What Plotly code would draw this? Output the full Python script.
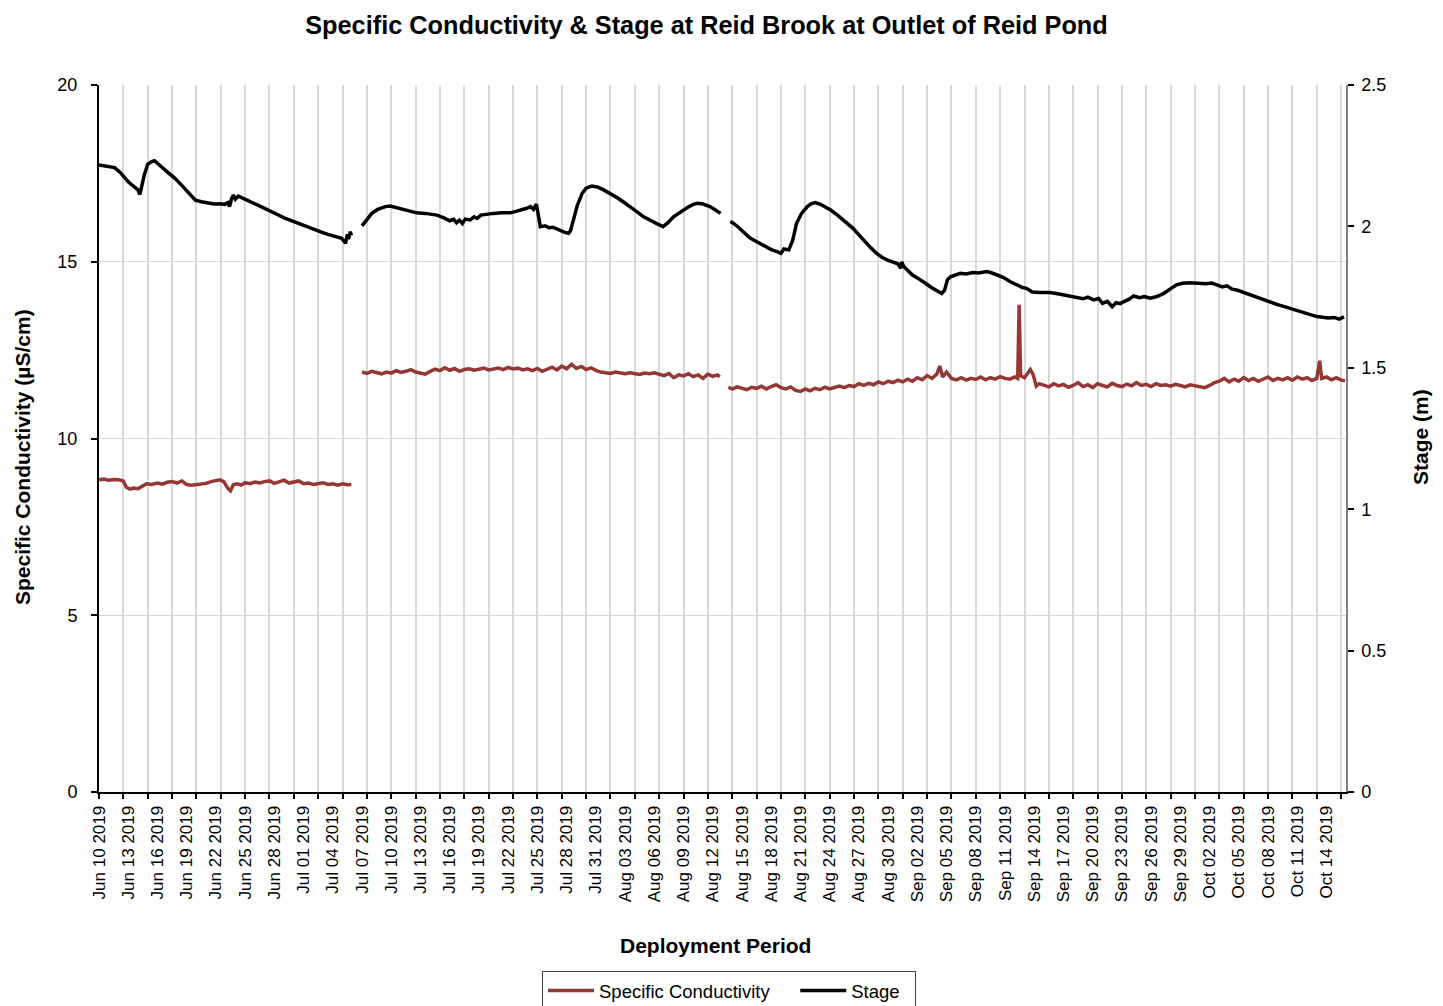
import pandas as pd
import plotly.graph_objects as go

START = pd.Timestamp("2019-06-10")
END = pd.Timestamp("2019-10-16")

# Stage (m): logger record, days since deployment start -> water level
stage_days_1 = [0.0, 0.5, 1.0, 1.6, 2.2, 2.6, 3.0, 3.5, 4.0, 4.2, 4.4, 4.65, 5.0, 5.4, 5.7,
                6.0, 6.4, 7.0, 7.8, 8.5, 9.2, 9.9, 10.5, 11.2, 11.8, 12.4, 12.9, 13.2, 13.4,
                13.6, 13.8, 14.0, 14.3, 14.8, 15.5, 16.3, 17.0, 17.4, 18.2, 19.0, 19.6, 20.1,
                20.8, 21.5, 22.2, 22.9, 23.5, 24.2, 24.9, 25.1, 25.3, 25.5, 25.6, 25.8, 25.9]
stage_vals_1 = [2.217, 2.214, 2.213, 2.208, 2.190, 2.172, 2.158, 2.143, 2.129, 2.113, 2.150,
                2.182, 2.220, 2.229, 2.232, 2.224, 2.211, 2.193, 2.170, 2.145, 2.117, 2.093,
                2.087, 2.082, 2.079, 2.080, 2.078, 2.084, 2.070, 2.097, 2.111, 2.096, 2.107,
                2.099, 2.089, 2.075, 2.064, 2.058, 2.044, 2.030, 2.022, 2.014, 2.004, 1.995,
                1.987, 1.979, 1.972, 1.965, 1.958, 1.950, 1.940, 1.972, 1.955, 1.981, 1.968]

stage_days_2 = [27.0, 27.3, 27.6, 28.0, 28.6, 29.4, 29.9, 30.6, 31.4, 32.0, 32.6, 33.5, 34.2,
                34.7, 35.4, 36.0, 36.4, 36.7, 37.0, 37.3, 37.6, 38.1, 38.5, 38.8, 39.2, 39.8,
                40.5, 41.3, 42.2, 42.8, 43.4, 43.9, 44.3, 44.6, 44.9, 45.1, 45.3, 45.8, 46.2,
                46.6, 47.0, 47.4, 47.8, 48.2, 48.4, 48.7, 49.1, 49.6, 50.0, 50.6, 51.2, 51.8,
                52.5, 53.2, 53.8, 54.5, 55.2, 55.9, 56.6, 57.3, 57.9, 58.4, 59.0, 59.7, 60.4,
                61.0, 61.4, 62.0, 62.7, 63.2, 63.8]
stage_vals_2 = [2.002, 2.015, 2.030, 2.046, 2.060, 2.070, 2.072, 2.066, 2.058, 2.052, 2.048,
                2.046, 2.042, 2.040, 2.030, 2.020, 2.025, 2.013, 2.022, 2.010, 2.026, 2.023,
                2.034, 2.028, 2.040, 2.044, 2.046, 2.048, 2.048, 2.053, 2.058, 2.064, 2.070,
                2.060, 2.079, 2.040, 1.999, 2.002, 1.995, 1.997, 1.990, 1.985, 1.979, 1.976,
                1.985, 2.023, 2.075, 2.117, 2.135, 2.143, 2.139, 2.129, 2.116, 2.101, 2.087,
                2.068, 2.052, 2.034, 2.020, 2.009, 1.999, 2.013, 2.035, 2.052, 2.067, 2.078,
                2.082, 2.079, 2.070, 2.060, 2.046]

stage_days_3 = [64.8, 65.0, 65.6, 66.2, 66.8, 67.2, 67.8, 68.5, 69.0, 69.6, 70.0, 70.3, 70.8,
                71.2, 71.6, 72.1, 72.7, 73.1, 73.5, 74.0, 74.5, 75.1, 75.8, 76.5, 77.0, 77.4,
                78.0, 78.6, 79.2, 79.8, 80.4, 81.0, 81.6, 82.0, 82.3, 82.4, 82.6, 83.0, 83.5,
                84.0, 84.3, 84.8, 85.4, 86.0, 86.5, 86.8, 87.1, 87.4, 88.0, 88.4, 89.0, 89.7,
                90.3, 91.1, 91.6, 92.2, 92.8, 93.5, 94.2, 94.8, 95.2, 95.8, 96.6, 97.2, 97.6,
                98.4, 99.0, 99.7, 100.4, 101.0, 101.5, 102.1, 102.6, 103.0, 103.5, 104.0, 104.4,
                104.8, 105.2, 105.7, 106.2, 106.8, 107.3, 107.9, 108.6, 109.3, 110.0, 110.6,
                111.2, 112.0, 112.8, 113.6, 114.2, 114.7, 115.3, 115.8, 116.3, 116.8, 117.5,
                118.2, 118.8, 119.5, 120.2, 120.9, 121.6, 122.3, 123.0, 123.7, 124.4, 125.0,
                125.6, 126.2, 126.8, 127.3, 127.8]
stage_vals_3 = [2.017, 2.014, 1.998, 1.978, 1.960, 1.952, 1.940, 1.925, 1.918, 1.911, 1.905,
                1.920, 1.917, 1.950, 2.011, 2.045, 2.070, 2.080, 2.084, 2.079, 2.070, 2.058,
                2.040, 2.020, 2.005, 1.993, 1.970, 1.946, 1.925, 1.905, 1.890, 1.880, 1.872,
                1.868, 1.852, 1.874, 1.858, 1.845, 1.828, 1.818, 1.810, 1.800, 1.785, 1.772,
                1.763, 1.775, 1.812, 1.822, 1.830, 1.834, 1.832, 1.837, 1.835, 1.840, 1.836,
                1.828, 1.820, 1.805, 1.793, 1.784, 1.781, 1.768, 1.766, 1.767, 1.766, 1.762,
                1.758, 1.754, 1.750, 1.744, 1.750, 1.740, 1.745, 1.728, 1.735, 1.716, 1.730,
                1.727, 1.734, 1.742, 1.754, 1.748, 1.752, 1.746, 1.752, 1.763, 1.780, 1.793,
                1.799, 1.801, 1.799, 1.797, 1.800, 1.793, 1.786, 1.790, 1.778, 1.775, 1.766,
                1.757, 1.748, 1.740, 1.732, 1.724, 1.717, 1.710, 1.702, 1.694, 1.688, 1.681,
                1.679, 1.676, 1.678, 1.672, 1.680]

# Specific conductivity (uS/cm): days since deployment start -> reading
cond_days_1 = [0.0, 0.5, 1.0, 1.5, 2.0, 2.5, 2.8, 3.2, 3.6, 4.0, 4.5, 4.9, 5.4, 6.0, 6.5, 7.0,
               7.5, 8.0, 8.5, 9.0, 9.5, 10.0, 10.5, 11.0, 11.5, 12.0, 12.4, 12.8, 13.2, 13.5,
               13.8, 14.2, 14.6, 15.0, 15.5, 16.0, 16.5, 17.0, 17.5, 18.0, 18.5, 19.0, 19.5,
               20.0, 20.5, 21.0, 21.5, 22.0, 22.5, 23.0, 23.5, 24.0, 24.5, 25.0, 25.5, 25.9]
cond_vals_1 = [8.83, 8.85, 8.82, 8.84, 8.83, 8.80, 8.62, 8.57, 8.60, 8.58, 8.66, 8.72, 8.70,
               8.74, 8.71, 8.76, 8.78, 8.74, 8.80, 8.70, 8.68, 8.70, 8.72, 8.73, 8.78, 8.80,
               8.83, 8.78, 8.60, 8.52, 8.70, 8.72, 8.68, 8.75, 8.72, 8.77, 8.74, 8.78, 8.80,
               8.73, 8.77, 8.82, 8.74, 8.76, 8.80, 8.72, 8.74, 8.70, 8.73, 8.75, 8.70, 8.72,
               8.68, 8.72, 8.69, 8.70]

cond_days_2 = [27.0, 27.5, 28.0, 28.5, 29.0, 29.5, 30.0, 30.5, 31.0, 31.5, 32.0, 32.5, 33.0,
               33.5, 34.0, 34.5, 35.0, 35.5, 36.0, 36.5, 37.0, 37.5, 38.0, 38.5, 39.0, 39.5,
               40.0, 40.5, 41.0, 41.5, 42.0, 42.5, 43.0, 43.5, 44.0, 44.5, 45.0, 45.5, 46.0,
               46.5, 47.0, 47.5, 48.0, 48.5, 49.0, 49.5, 50.0, 50.5, 51.0, 51.5, 52.0, 52.5,
               53.0, 53.5, 54.0, 54.5, 55.0, 55.5, 56.0, 56.5, 57.0, 57.5, 58.0, 58.5, 59.0,
               59.5, 60.0, 60.5, 61.0, 61.5, 62.0, 62.5, 63.0, 63.5, 63.7]
cond_vals_2 = [11.88, 11.84, 11.90, 11.86, 11.83, 11.88, 11.85, 11.92, 11.87, 11.90, 11.95,
               11.88, 11.86, 11.82, 11.90, 11.96, 11.92, 12.00, 11.93, 11.98, 11.90, 11.95,
               11.97, 11.93, 11.96, 11.99, 11.94, 11.97, 11.99, 11.95, 12.01, 11.97, 11.99,
               11.94, 11.97, 11.92, 11.98, 11.90, 11.96, 12.02, 11.94, 12.05, 11.97, 12.10,
               11.98, 12.04, 11.95, 12.00, 11.93, 11.88, 11.86, 11.84, 11.88, 11.85, 11.83,
               11.86, 11.84, 11.81, 11.85, 11.83, 11.86, 11.82, 11.78, 11.84, 11.72, 11.80,
               11.77, 11.83, 11.75, 11.80, 11.70, 11.82, 11.76, 11.80, 11.74]

cond_days_3 = [64.6, 65.0, 65.5, 66.0, 66.5, 67.0, 67.5, 68.0, 68.5, 69.0, 69.5, 70.0, 70.5,
               71.0, 71.5, 72.0, 72.5, 73.0, 73.5, 74.0, 74.5, 75.0, 75.5, 76.0, 76.5, 77.0,
               77.5, 78.0, 78.5, 79.0, 79.5, 80.0, 80.5, 81.0, 81.5, 82.0, 82.5, 83.0, 83.5,
               84.0, 84.5, 85.0, 85.5, 86.0, 86.3, 86.6, 87.0, 87.5, 88.0, 88.5, 89.0, 89.5,
               90.0, 90.5, 91.0, 91.5, 92.0, 92.5, 93.0, 93.5, 94.0, 94.3, 94.45, 94.6, 95.0,
               95.6, 95.9, 96.2, 96.5, 97.0, 97.5, 98.0, 98.5, 99.0, 99.5, 100.0, 100.5, 101.0,
               101.5, 102.0, 102.5, 103.0, 103.5, 104.0, 104.5, 105.0, 105.5, 106.0, 106.5,
               107.0, 107.5, 108.0, 108.5, 109.0, 109.5, 110.0, 110.5, 111.0, 111.5, 112.0,
               112.5, 113.0, 113.5, 114.0, 114.5, 115.0, 115.5, 116.0, 116.5, 117.0, 117.5,
               118.0, 118.5, 119.0, 119.5, 120.0, 120.5, 121.0, 121.5, 122.0, 122.5, 123.0,
               123.5, 124.0, 124.5, 125.0, 125.3, 125.5, 126.0, 126.5, 127.0, 127.5, 127.9]
cond_vals_3 = [11.45, 11.40, 11.46, 11.42, 11.38, 11.45, 11.42, 11.48, 11.40, 11.47, 11.52,
               11.44, 11.40, 11.46, 11.36, 11.33, 11.40, 11.35, 11.42, 11.38, 11.45, 11.40,
               11.43, 11.48, 11.44, 11.50, 11.47, 11.55, 11.50, 11.56, 11.52, 11.60, 11.55,
               11.62, 11.58, 11.65, 11.60, 11.68, 11.62, 11.72, 11.66, 11.78, 11.70, 11.82,
               12.05, 11.74, 11.88, 11.70, 11.66, 11.72, 11.65, 11.70, 11.67, 11.74, 11.66,
               11.72, 11.68, 11.75, 11.70, 11.68, 11.74, 11.70, 13.78, 11.78, 11.72, 11.95,
               11.80, 11.48, 11.55, 11.50, 11.46, 11.55, 11.49, 11.53, 11.45, 11.50, 11.58,
               11.47, 11.52, 11.44, 11.55, 11.50, 11.46, 11.56, 11.50, 11.47, 11.54, 11.49,
               11.58, 11.50, 11.53, 11.47, 11.55, 11.50, 11.52, 11.48, 11.53, 11.50, 11.46,
               11.52, 11.49, 11.47, 11.44, 11.50, 11.58, 11.62, 11.70, 11.60, 11.68, 11.62,
               11.72, 11.64, 11.70, 11.62, 11.68, 11.74, 11.64, 11.70, 11.66, 11.72, 11.65,
               11.74, 11.68, 11.72, 11.64, 11.70, 12.20, 11.70, 11.74, 11.66, 11.72, 11.65,
               11.63]


def join_segments(segments):
    """Concatenate (days, values) deployment segments, separated by gaps."""
    xs, ys = [], []
    for i, (days, vals) in enumerate(segments):
        if i:
            xs.append(None)
            ys.append(None)
        xs.extend(START + pd.to_timedelta(d, unit="D") for d in days)
        ys.extend(vals)
    return xs, ys


cond_x, cond_y = join_segments([(cond_days_1, cond_vals_1),
                                (cond_days_2, cond_vals_2),
                                (cond_days_3, cond_vals_3)])
stage_x, stage_y = join_segments([(stage_days_1, stage_vals_1),
                                  (stage_days_2, stage_vals_2),
                                  (stage_days_3, stage_vals_3)])

FONT = "Liberation Sans, Arial, sans-serif"
COND_COLOR = "#953735"
GRID = "#d9d9d9"
DAY_MS = 86400000
NBSP = "\u00a0"

fig = go.Figure()
fig.add_trace(go.Scatter(x=cond_x, y=cond_y, name="Specific Conductivity" + NBSP * 4,
                         mode="lines", line=dict(color=COND_COLOR, width=3.5),
                         connectgaps=False, xaxis="x", yaxis="y"))
fig.add_trace(go.Scatter(x=stage_x, y=stage_y, name="Stage" + NBSP * 2, mode="lines",
                         line=dict(color="black", width=3.5), connectgaps=False,
                         xaxis="x", yaxis="y2"))
# carrier for the gridline / tick-mark date axis
fig.add_trace(go.Scatter(x=[], y=[], xaxis="x2", yaxis="y", showlegend=False,
                         hoverinfo="skip"))

x_range = [START, END]

fig.update_layout(
    width=1443, height=1006,
    margin=dict(l=99, r=97, t=85, b=214, autoexpand=False),
    paper_bgcolor="white", plot_bgcolor="white",
    font=dict(family=FONT, color="black"),
    title=dict(text="Specific Conductivity & Stage at Reid Brook at Outlet of Reid Pond",
               font=dict(size=25.3, family=FONT, weight="bold", color="black"),
               x=706.5 / 1443, xref="container", xanchor="center",
               y=1 - 25 / 1006, yref="container", yanchor="middle"),
    xaxis=dict(type="date", range=x_range, tick0=START, dtick=3 * DAY_MS,
               tickformat="%b %d %Y", tickangle=-90, ticks="", showgrid=False,
               zeroline=False, showline=True, linecolor="black", linewidth=2,
               tickfont=dict(size=17, family=FONT, color="black"),
               ticklabelstandoff=5),
    xaxis2=dict(type="date", range=x_range, tick0=START, dtick=2.5 * DAY_MS,
                overlaying="x", anchor="y", side="bottom", showticklabels=False,
                showgrid=True, gridcolor=GRID, gridwidth=1.5, ticks="outside",
                ticklen=6, tickwidth=1.5, tickcolor="black", showline=False,
                zeroline=False),
    yaxis=dict(range=[0, 20], dtick=5, tick0=0, showgrid=True, gridcolor=GRID,
               gridwidth=1.2, zeroline=False, showline=True, linecolor="black",
               linewidth=2, ticks="outside", ticklen=6, tickwidth=1.5,
               tickcolor="black", tickfont=dict(size=18, family=FONT, color="black"),
               ticklabelstandoff=10),
    yaxis2=dict(range=[0, 2.5], dtick=0.5, tick0=0, overlaying="y", side="right",
                showgrid=False, zeroline=False, showline=True, linecolor="#808080",
                linewidth=1.5, ticks="outside", ticklen=6, tickwidth=1.5,
                tickcolor="black", tickfont=dict(size=18, family=FONT, color="black"),
                ticklabelstandoff=4),
    legend=dict(orientation="h", x=(542 - 99) / 1247, xanchor="left",
                y=(792 - 971) / 707, yanchor="top",
                bgcolor="white", bordercolor="#404040", borderwidth=1,
                font=dict(size=18.5, family=FONT, color="black"), itemwidth=46),
    showlegend=True,
)

axis_title_font = dict(size=21, family=FONT, weight="bold", color="black")
fig.add_annotation(text="Specific Conductivity (µS/cm)", textangle=-90,
                   xref="paper", yref="paper", x=(22 - 99) / 1247, y=(792 - 457) / 707,
                   xanchor="center", yanchor="middle", showarrow=False,
                   font=axis_title_font)
fig.add_annotation(text="Stage (m)", textangle=-90,
                   xref="paper", yref="paper", x=(1420 - 99) / 1247, y=(792 - 437) / 707,
                   xanchor="center", yanchor="middle", showarrow=False,
                   font=axis_title_font)
fig.add_annotation(text="Deployment Period",
                   xref="paper", yref="paper", x=(715 - 99) / 1247, y=(792 - 945) / 707,
                   xanchor="center", yanchor="middle", showarrow=False,
                   font=axis_title_font)

fig.write_html("out.html")
